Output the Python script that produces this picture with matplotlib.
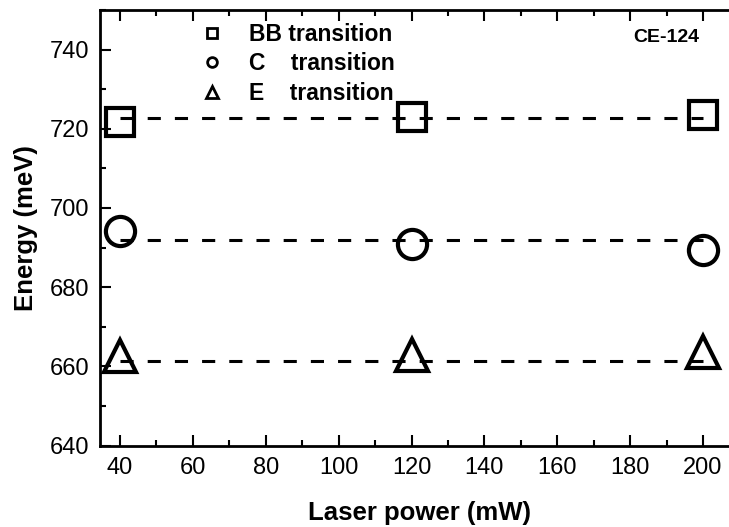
import matplotlib
matplotlib.use("Agg")
import matplotlib.pyplot as plt
from matplotlib.lines import Line2D
from matplotlib.ticker import MultipleLocator

plt.rcParams['font.family'] = ['Liberation Sans', 'DejaVu Sans']

power = [40, 120, 200]
bb_energy = [721.8, 722.9, 723.4]
c_energy = [694.3, 690.9, 689.5]
e_energy = [662.5, 662.9, 663.5]
bb_fit = 722.6
c_fit = 691.8
e_fit = 661.4
labels = ["BB transition", "C    transition", "E    transition"]

fig = plt.figure(figsize=(7.29, 5.27), dpi=100)
ax = fig.add_axes([100/729, 1-445.5/527, 639.5/729, 435.5/527])

dash = (0, (4.3, 4.6))
for fit in (bb_fit, c_fit, e_fit):
    ax.plot([power[0], power[-1]], [fit, fit], color='black', lw=2.2,
            linestyle=dash, zorder=2)

ax.plot(power, bb_energy, linestyle='none', marker='s', ms=20, mfc='none',
        mec='black', mew=3.0, zorder=3)
ax.plot(power, c_energy, linestyle='none', marker='o', ms=21, mfc='none',
        mec='black', mew=3.0, zorder=3)
ax.plot(power, e_energy, linestyle='none', marker='^', ms=23, mfc='none',
        mec='black', mew=3.0, zorder=3)

handles = [
    Line2D([], [], linestyle='none', marker='s', ms=7, mfc='none', mec='black', mew=2),
    Line2D([], [], linestyle='none', marker='o', ms=7, mfc='none', mec='black', mew=2),
    Line2D([], [], linestyle='none', marker='^', ms=8, mfc='none', mec='black', mew=2),
]
leg = ax.legend(handles, labels, loc='upper left', bbox_to_anchor=(0.125, 1.018),
                frameon=False, handlelength=1.0, handletextpad=1.1,
                labelspacing=0.29, prop={'weight': 'bold', 'size': 16.5})

ax.text(189.8, 743.0, "CE-124", ha='center', va='center', fontsize=14,
        fontweight='bold')

ax.set_xlim(34.5, 210)
ax.set_ylim(640, 750)
ax.xaxis.set_major_locator(MultipleLocator(20))
ax.xaxis.set_minor_locator(MultipleLocator(10))
ax.yaxis.set_major_locator(MultipleLocator(20))
ax.yaxis.set_minor_locator(MultipleLocator(10))
ax.set_yticks([640, 660, 680, 700, 720, 740])

ax.tick_params(which='both', direction='in', top=True, right=True, width=1.5)
ax.tick_params(which='major', length=8, labelsize=17, pad=8)
ax.tick_params(which='minor', length=4)
for s in ax.spines.values():
    s.set_linewidth(2)

ax.set_xlabel("Laser power (mW)", fontsize=18.5, fontweight='bold', labelpad=16)
ax.set_ylabel("Energy (meV)", fontsize=18.5, fontweight='bold', labelpad=8)

fig.savefig("out.png", dpi=100)
